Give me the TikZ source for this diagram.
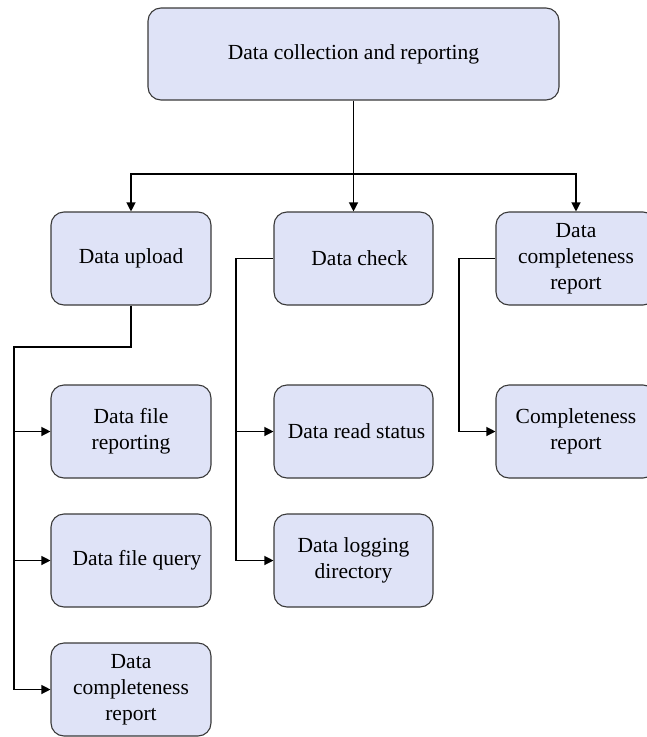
\documentclass[tikz,border=0pt]{standalone}
\usepackage{fontspec}
\setmainfont{Liberation Serif}
\usetikzlibrary{arrows.meta}
\definecolor{boxfill}{HTML}{DFE3F7}
\definecolor{boxline}{HTML}{3A3A3A}
\tikzset{
  box/.style={draw=boxline, line width=1.1pt, fill=boxfill, rounded corners=13pt,
    minimum width=160pt, minimum height=93pt, align=center, inner sep=2pt,
    font=\fontsize{21.5pt}{26pt}\selectfont},
  link/.style={line width=1.2pt, draw=black},
  arr/.style={link, -{Triangle[length=9pt,width=9pt]}}
}
\begin{document}
\begin{tikzpicture}[x=1pt,y=-1pt]
  \useasboundingbox (0,0) rectangle (647,737);
  % top level
  \node[box, minimum width=411pt, minimum height=92pt] (top) at (353.5,54) {Data collection and reporting};
  % second level
  \node[box] (up)   at (131,258.5)   {Data upload};
  \node[box, minimum width=159pt] (chk)  at (353.5,258.5) {\hspace*{12pt}Data check};
  \node[box] (comp) at (576,258.5)   {Data\\completeness\\report};
  % under "Data upload"
  \node[box] (f1) at (131,431.5) {Data file\\reporting};
  \node[box] (f2) at (131,560.5) {\hspace*{12pt}Data file query};
  \node[box] (f3) at (131,689.5) {Data\\completeness\\report};
  % under "Data check"
  \node[box, minimum width=159pt] (rs) at (353.5,431.5) {\hspace*{6pt}Data read status};
  \node[box, minimum width=159pt] (ld) at (353.5,560.5) {Data logging\\directory};
  % under "Data completeness report"
  \node[box] (cr) at (576,431.5) {Completeness\\report};

  % top level to second level
  \coordinate (hub) at (353.5,174);
  \draw[arr] (top.south) -- (chk.north);
  \draw[arr] (hub) -| (up.north);
  \draw[arr] (hub) -| (comp.north);

  % Data upload branch
  \coordinate (ua) at (131,347);
  \coordinate (ub) at (14,347);
  \draw[arr] (up.south) -- (ua) -- (ub) |- (f3.west);
  \draw[arr] (ub) |- (f1.west);
  \draw[arr] (ub) |- (f2.west);

  % Data check branch
  \coordinate (ca) at (236,258.5);
  \draw[arr] (chk.west) -- (ca) |- (ld.west);
  \draw[arr] (ca) |- (rs.west);

  % Data completeness report branch
  \coordinate (pa) at (459,258.5);
  \draw[arr] (comp.west) -- (pa) |- (cr.west);
\end{tikzpicture}
\end{document}
